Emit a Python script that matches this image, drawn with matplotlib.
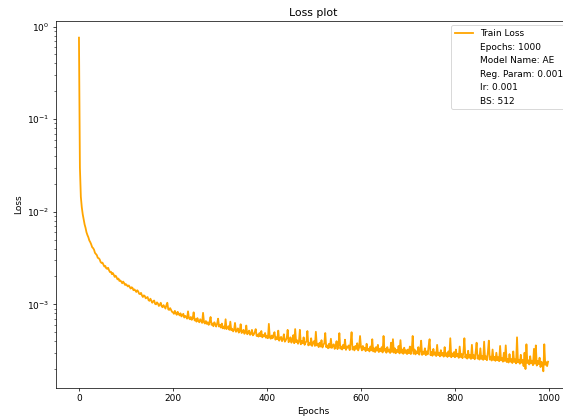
import numpy as np
import matplotlib
matplotlib.use("Agg")
import matplotlib.pyplot as plt

# Training loss logged every 2 epochs, in units of 1e-6
loss_0xx = [760000, 30000, 14500, 11200, 9400, 8300, 7300, 6700, 6000, 5600,
            5300, 4900, 4700, 4450, 4150, 4050, 3900, 3600, 3500, 3400,
            3180, 3150, 3060, 2870, 2800, 2820, 2680, 2560, 2600, 2450,
            2420, 2480, 2330, 2230, 2250, 2120, 2180, 2090, 1980, 2040,
            1960, 1860, 1900, 1790, 1810, 1760, 1690, 1760, 1700, 1620]
loss_1xx = [1650, 1610, 1560, 1600, 1540, 1480, 1530, 1500, 1420, 1450,
            1410, 1360, 1420, 1380, 1300, 1290, 1330, 1250, 1200, 1250,
            1230, 1160, 1180, 1200, 1110, 1090, 1150, 1090, 1040, 1080,
            1100, 1010, 1000, 1050, 1020, 960, 990, 1040, 950, 930,
            980, 940, 900, 980, 1040, 880, 870, 910, 870, 830]
loss_2xx = [820, 790, 850, 800, 770, 830, 790, 760, 800, 740,
            760, 790, 720, 750, 735, 700, 840, 710, 690, 730,
            680, 710, 820, 670, 690, 650, 710, 660, 640, 690,
            660, 630, 810, 640, 620, 660, 615, 640, 600, 650,
            730, 600, 620, 580, 640, 610, 575, 620, 700, 575]
loss_3xx = [600, 560, 620, 550, 575, 545, 690, 540, 560, 580,
            530, 650, 525, 545, 510, 530, 630, 505, 520, 550,
            495, 515, 610, 490, 505, 530, 480, 500, 590, 475,
            490, 520, 468, 480, 530, 462, 475, 500, 540, 455,
            470, 448, 490, 452, 515, 440, 465, 450, 490, 435]
loss_4xx = [455, 430, 615, 440, 425, 460, 430, 470, 500, 415,
            440, 420, 520, 405, 430, 445, 400, 420, 475, 395,
            410, 430, 530, 390, 405, 440, 385, 410, 465, 380,
            540, 390, 410, 375, 395, 530, 370, 400, 380, 440,
            365, 385, 400, 515, 360, 380, 365, 430, 355, 385]
loss_5xx = [400, 355, 505, 360, 375, 345, 385, 350, 410, 342,
            365, 380, 490, 345, 360, 335, 375, 340, 425, 338,
            355, 370, 330, 350, 400, 328, 360, 488, 332, 350,
            325, 365, 335, 415, 322, 350, 340, 360, 320, 385,
            500, 325, 345, 318, 355, 330, 380, 318, 340, 455]
loss_6xx = [345, 318, 355, 325, 340, 312, 375, 320, 330, 310,
            350, 318, 420, 310, 335, 305, 345, 315, 365, 305,
            330, 312, 345, 302, 455, 315, 330, 300, 345, 308,
            325, 298, 385, 305, 420, 300, 335, 296, 322, 305,
            355, 295, 410, 300, 325, 292, 340, 298, 320, 290]
loss_7xx = [325, 296, 350, 290, 318, 455, 292, 325, 288, 310,
            296, 345, 286, 315, 405, 284, 308, 290, 335, 282,
            310, 288, 355, 420, 282, 305, 278, 330, 285, 302,
            276, 365, 282, 300, 274, 320, 280, 298, 272, 345,
            278, 296, 270, 310, 276, 430, 268, 295, 274, 305]
loss_8xx = [268, 325, 274, 292, 264, 350, 270, 290, 262, 305,
            430, 266, 286, 259, 315, 264, 284, 257, 365, 262,
            282, 255, 305, 385, 259, 280, 253, 335, 257, 276,
            251, 395, 255, 274, 249, 305, 405, 253, 272, 247,
            325, 251, 270, 245, 300, 249, 268, 243, 355, 248]
loss_9xx = [262, 240, 300, 244, 360, 238, 258, 235, 290, 240,
            256, 232, 310, 238, 254, 230, 440, 236, 252, 228,
            285, 234, 250, 215, 300, 200, 370, 232, 248, 224,
            275, 230, 246, 220, 330, 228, 360, 218, 244, 226,
            265, 210, 240, 225, 189, 370, 222, 238, 215, 240]

train_loss = np.array(loss_0xx + loss_1xx + loss_2xx + loss_3xx + loss_4xx
                      + loss_5xx + loss_6xx + loss_7xx + loss_8xx + loss_9xx) * 1e-6
epochs = list(range(0, 1000, 2))

run_info = ["Epochs: 1000", "Model Name: AE", "Reg. Param: 0.001",
            "lr: 0.001", "BS: 512"]

DPI = 65
fig = plt.figure(figsize=(563 / DPI, 418 / DPI), dpi=DPI)
ax = fig.add_axes([0.0986, 0.0718, 0.9165, 0.878])

ax.plot(epochs, train_loss, color="orange", linewidth=2.0, label="Train Loss")
for info in run_info:
    ax.plot([], [], " ", label=info)

ax.set_yscale("log")
ax.set_title("Loss plot")
ax.set_xlabel("Epochs")
ax.set_ylabel("Loss")
ax.legend(loc="upper right")

fig.savefig("out.png", dpi=DPI)
